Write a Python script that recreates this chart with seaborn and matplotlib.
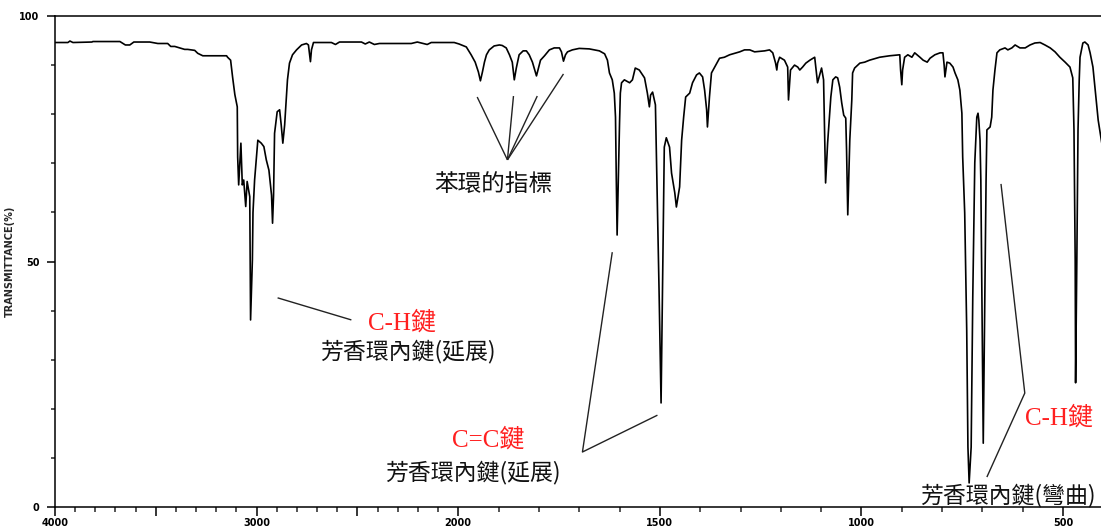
import numpy as np
import pandas as pd
import matplotlib
matplotlib.use("Agg")
import matplotlib.pyplot as plt
from matplotlib.ticker import FixedLocator, FixedFormatter, NullFormatter
import seaborn as sns

# IR spectrum of toluene: wavenumber (cm-1) and transmittance (%)
wavenumber = [
    4000, 3936, 3926, 3911, 3817, 3812, 3678, 3651, 3629, 3609, 3579, 3530,
    3490, 3441, 3426, 3406, 3357, 3342, 3307, 3292, 3267, 3149, 3144, 3129,
    3119, 3108, 3096, 3094, 3089, 3078, 3071, 3064, 3054, 3047, 3034, 3030,
    3021, 3018, 3010, 2994, 2977, 2964, 2952, 2939, 2926, 2921, 2916, 2911,
    2898, 2886, 2878, 2870, 2861, 2853, 2847, 2837, 2822, 2802, 2777, 2753,
    2743, 2733, 2728, 2718, 2629, 2609, 2589, 2480, 2461, 2441, 2416, 2391,
    2233, 2203, 2173, 2154, 2134, 2020,
    1998, 1980, 1968, 1958, 1950, 1945, 1940, 1935, 1930, 1923, 1911, 1898,
    1891, 1881, 1873, 1866, 1861, 1856, 1849, 1839, 1831, 1824, 1816, 1806,
    1801, 1796, 1786, 1774, 1762, 1749, 1744, 1739, 1734, 1729, 1717, 1700,
    1675, 1650, 1637, 1630, 1625, 1618, 1613, 1610, 1608, 1606, 1600, 1598,
    1595, 1588, 1575, 1568, 1561, 1551, 1538, 1531, 1526, 1523, 1518, 1511,
    1506, 1502, 1497, 1489, 1484, 1476, 1471, 1463, 1459, 1451, 1446, 1441,
    1436, 1426, 1419, 1409, 1402, 1394, 1389, 1384, 1382, 1377, 1372, 1364,
    1352, 1340, 1327, 1302, 1290, 1277, 1265, 1240, 1228, 1220, 1213, 1210,
    1208, 1203, 1191, 1183, 1181, 1176, 1166, 1158, 1153, 1146, 1138, 1128,
    1116, 1109, 1099, 1094, 1089, 1084, 1076, 1071, 1064, 1059, 1054, 1049,
    1044, 1039, 1037, 1034, 1029, 1024, 1022, 1017, 1004, 992, 980, 955,
    930, 905, 903, 900, 898, 893, 885, 875, 868, 855, 847, 837,
    830, 818, 805, 798, 795, 793, 788, 781, 773, 768, 761, 756,
    751, 749, 744, 739, 736, 733, 728, 724, 719, 714, 711, 709,
    706, 704, 701, 698, 694, 691, 689, 681, 677, 674, 669, 664,
    657, 644, 637, 627, 619, 607, 594, 582, 570, 557, 545, 532,
    520, 508, 495, 483, 476, 473, 470, 469, 466, 463, 460, 458,
    451, 446, 438, 433, 426, 421, 413, 400,
]
transmittance = [
    94.6, 94.6, 94.9, 94.6, 94.7, 94.8, 94.8, 94.1, 94.1, 94.7, 94.7, 94.7,
    94.4, 94.4, 93.8, 93.8, 93.2, 93.2, 93.0, 92.4, 91.9, 91.9, 91.6, 91.0,
    87.5, 84.0, 81.5, 71.3, 65.6, 74.1, 65.6, 66.6, 61.2, 66.3, 63.2, 38.1,
    50.3, 60.0, 66.6, 74.7, 74.1, 73.4, 70.7, 68.6, 63.5, 57.8, 63.5, 76.1,
    80.5, 80.9, 77.8, 74.1, 77.8, 82.9, 87.0, 90.4, 92.1, 93.1, 94.1, 94.4,
    94.1, 90.7, 93.1, 94.6, 94.6, 94.2, 94.7, 94.7, 94.3, 94.7, 94.2, 94.4,
    94.4, 94.7, 94.4, 94.2, 94.6, 94.6,
    94.3, 93.7, 92.1, 90.6, 88.6, 86.8, 88.6, 90.6, 92.1, 93.1, 93.9, 94.1,
    94.0, 93.5, 92.1, 90.6, 87.0, 89.4, 92.1, 92.9, 92.9, 92.1, 90.6, 87.8,
    89.4, 91.0, 91.9, 93.1, 93.5, 93.5, 92.7, 90.8, 92.1, 92.7, 93.1, 93.4,
    93.3, 92.9, 92.3, 91.0, 88.4, 87.0, 84.3, 79.4, 66.6, 55.4, 78.2, 84.3,
    86.4, 87.0, 86.4, 87.0, 89.4, 89.0, 87.4, 84.3, 81.5, 83.9, 84.5, 81.9,
    61.1, 44.2, 21.2, 73.3, 75.2, 73.3, 68.0, 64.0, 61.1, 65.2, 74.7, 79.4,
    83.5, 84.3, 86.4, 88.0, 88.4, 87.6, 84.9, 80.9, 77.4, 83.5, 88.4, 89.6,
    91.4, 91.6, 92.1, 92.7, 93.1, 93.1, 92.7, 92.9, 93.1, 92.5, 90.4, 89.0,
    90.4, 91.6, 91.0, 89.6, 82.9, 89.0, 90.0, 89.6, 89.0, 89.6, 90.4, 91.0,
    91.6, 86.4, 89.4, 87.0, 66.0, 74.1, 83.5, 87.0, 87.6, 87.4, 85.5, 82.3,
    79.8, 79.2, 72.7, 59.5, 74.7, 82.9, 88.4, 89.4, 90.4, 90.6, 91.0, 91.6,
    91.9, 92.1, 89.0, 86.0, 89.0, 91.6, 92.1, 91.6, 92.5, 91.6, 91.0, 90.6,
    91.4, 92.1, 92.5, 92.5, 90.0, 87.6, 90.6, 90.4, 89.6, 88.4, 87.0, 84.9,
    80.2, 71.3, 59.9, 36.0, 12.2, 4.9, 12.2, 42.8, 70.1, 79.4, 80.2, 78.8,
    74.7, 66.6, 39.5, 13.0, 42.8, 66.6, 76.8, 77.4, 79.4, 84.9, 89.0, 92.5,
    93.1, 93.5, 93.1, 93.5, 94.1, 93.5, 93.5, 94.1, 94.5, 94.6, 94.1, 93.5,
    92.7, 91.6, 90.6, 89.6, 87.4, 76.8, 50.3, 25.3, 49.7, 76.8, 87.0, 91.6,
    94.5, 94.7, 94.1, 92.5, 89.6, 85.5, 78.8, 72.0,
]

x_major = [4000, 3500, 3000, 2500, 2000, 1500, 1000, 500]
x_major_labels = ["4000", "", "3000", "", "2000", "1500", "1000", "500"]
y_major = [0, 50, 100]
y_major_labels = ["0", "50", "100"]

# annotation texts
label_ring = "苯環的指標"
label_ch = "C-H鍵"
label_cc = "C=C鍵"
label_stretch = "芳香環內鍵(延展)"
label_bend = "芳香環內鍵(彎曲)"

df = pd.DataFrame({"wavenumber": wavenumber, "transmittance": transmittance})

sns.set_theme(style="ticks")
plt.rcParams["font.family"] = ["DejaVu Sans"]

fig = plt.figure(figsize=(11.01, 5.31), dpi=100)
ax = fig.add_axes([55 / 1101, 24 / 531, 1046 / 1101, 491 / 531])

sns.lineplot(data=df, x="wavenumber", y="transmittance", ax=ax,
             color="black", linewidth=1.2, estimator=None, sort=True)


# instrument chart: 4000-2000 cm-1 drawn at half the scale of 2000-400 cm-1
def fwd(w):
    w = np.asarray(w, dtype=float)
    return np.where(w <= 2000, w, 2000 + (w - 2000) / 2)


def inv(v):
    v = np.asarray(v, dtype=float)
    return np.where(v <= 2000, v, 2000 + (v - 2000) * 2)


ax.set_xscale("function", functions=(fwd, inv))
ax.set_xlim(4000, 406)
ax.set_ylim(0, 100)

ax.xaxis.set_major_locator(FixedLocator(x_major))
ax.xaxis.set_major_formatter(FixedFormatter(x_major_labels))
ax.xaxis.set_minor_locator(FixedLocator(np.arange(500, 4001, 100)))
ax.xaxis.set_minor_formatter(NullFormatter())
ax.yaxis.set_major_locator(FixedLocator(y_major))
ax.yaxis.set_major_formatter(FixedFormatter(y_major_labels))
ax.yaxis.set_minor_locator(FixedLocator(np.arange(0, 101, 10)))
ax.yaxis.set_minor_formatter(NullFormatter())

ax.tick_params(axis="x", which="major", direction="out", length=6.5, width=1.1,
               pad=1.5, labelsize=7, colors="black")
ax.tick_params(axis="x", which="minor", direction="out", length=3.4, width=1.1)
ax.tick_params(axis="y", which="major", direction="out", length=5.8, width=1.1,
               pad=5.5, labelsize=7, colors="black")
ax.tick_params(axis="y", which="minor", direction="out", length=2.6, width=1.1)
for lab in ax.get_xticklabels() + ax.get_yticklabels():
    lab.set_fontweight("bold")

ax.set_xlabel("")
ax.set_ylabel("TRANSMITTANCE(%)", fontsize=7, fontweight="bold")
ax.yaxis.set_label_coords(-40 / 1046, 0.5)

for side in ["left", "bottom", "top"]:
    ax.spines[side].set_visible(True)
    ax.spines[side].set_linewidth(1.1)
    ax.spines[side].set_color("black")
ax.spines["right"].set_visible(False)
ax.grid(False)

cjk = ["Noto Sans CJK TC", "DejaVu Sans"]
serif_cjk = ["Liberation Serif", "Noto Sans CJK TC"]
line_kw = dict(color="#222222", linewidth=1.0, solid_capstyle="butt")

# overtone / combination bands of the benzene ring
for w_end, t_end in [(1953, 83.5), (1863, 83.7), (1804, 83.7), (1739, 88.2)]:
    ax.plot([1878, w_end], [70.7, t_end], **line_kw)
ax.text(1913, 65.6, label_ring, family=cjk, fontsize=17, color="#111111",
        ha="center", va="center")

# aromatic C-H stretch
ax.plot([2896, 2530], [42.6, 38.1], **line_kw)
ax.text(2280, 37.6, label_ch, family=serif_cjk, fontsize=18, color="#ff2020",
        ha="center", va="center")
ax.text(2248, 31.6, label_stretch, family=cjk, fontsize=16.5, color="#111111",
        ha="center", va="center")

# aromatic C=C stretch
ax.plot([1618, 1692, 1506], [51.9, 11.2, 18.7], **line_kw)
ax.text(1925, 13.6, label_cc, family=serif_cjk, fontsize=18, color="#ff2020",
        ha="center", va="center")
ax.text(1964, 7.1, label_stretch, family=cjk, fontsize=16.5, color="#111111",
        ha="center", va="center")

# out-of-plane C-H bending
ax.plot([654, 595, 689], [65.8, 23.2, 6.1], **line_kw)
ax.text(510, 18.1, label_ch, family=serif_cjk, fontsize=18, color="#ff2020",
        ha="center", va="center")
ax.text(637, 2.4, label_bend, family=cjk, fontsize=16.5, color="#111111",
        ha="center", va="center")

fig.savefig("out.png", dpi=100)
